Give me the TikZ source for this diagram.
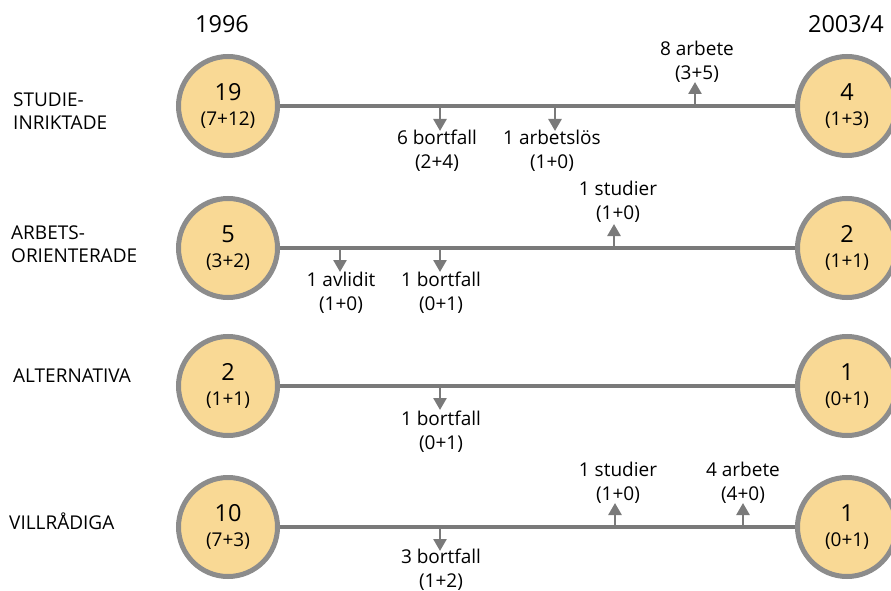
\documentclass[tikz,border=0pt]{standalone}
\usepackage{fontspec}
\setmainfont{Open Sans}
\usetikzlibrary{arrows.meta}
\definecolor{lgray}{HTML}{7A7A7A}
\definecolor{cgray}{HTML}{8C8C8C}
\definecolor{cfill}{HTML}{F9D995}
\tikzset{
  x=1pt, y=-1pt,
  ring/.style={circle, draw=cgray, line width=5pt, fill=cfill, minimum size=99pt, inner sep=0pt, align=center, font=\fontsize{19}{25}\selectfont},
  hline/.style={draw=lgray, line width=3.2pt},
  flow/.style={draw=lgray, line width=2.6pt, -{Triangle[length=12pt,width=13pt]}},
  lbl/.style={align=center, font=\fontsize{19}{24}\selectfont, inner sep=0pt},
  cat/.style={anchor=west, align=left, font=\fontsize{19}{23}\selectfont, inner sep=0pt},
  head/.style={font=\fontsize{23.5}{26}\selectfont, inner sep=0pt},
}
\newcommand{\bignum}[1]{{\fontsize{23.5}{25}\selectfont #1}}
\begin{document}
\begin{tikzpicture}
\useasboundingbox (0,0) rectangle (891,591);
\node[head] (y1) at (222,24) {1996};
\node[head] (y2) at (846,24) {2003/4};
% row 1
\node[cat] (c1) at (13,111) {STUDIE-\\INRIKTADE};
\node[ring] (l1) at (228,106) {\bignum{19}\\(7+12)};
\node[ring] (r1) at (847,106) {\bignum{4}\\(1+3)};
\draw[hline] (l1) -- (r1);
\coordinate (a1) at (440,106); \coordinate (b1) at (440,131);
\coordinate (a2) at (555,106); \coordinate (b2) at (555,131);
\coordinate (a3) at (695,106); \coordinate (b3) at (695,82);
\draw[flow] (a1) -- (b1);
\draw[flow] (a2) -- (b2);
\draw[flow] (a3) -- (b3);
\node[lbl] (t1) at (437,151) {6 bortfall\\(2+4)};
\node[lbl] (t2) at (552,151) {1 arbetslös\\(1+0)};
\node[lbl] (t3) at (697,62) {8 arbete\\(3+5)};
% row 2
\node[cat] (c2) at (11,244) {ARBETS-\\ORIENTERADE};
\node[ring] (l2) at (228,248) {\bignum{5}\\(3+2)};
\node[ring] (r2) at (847,248) {\bignum{2}\\(1+1)};
\draw[hline] (l2) -- (r2);
\coordinate (a4) at (340,248); \coordinate (b4) at (340,272);
\coordinate (a5) at (440,248); \coordinate (b5) at (440,272);
\coordinate (a6) at (614,248); \coordinate (b6) at (614,224);
\draw[flow] (a4) -- (b4);
\draw[flow] (a5) -- (b5);
\draw[flow] (a6) -- (b6);
\node[lbl] (t4) at (341,293) {1 avlidit\\(1+0)};
\node[lbl] (t5) at (441,293) {1 bortfall\\(0+1)};
\node[lbl] (t6) at (618,202) {1 studier\\(1+0)};
% row 3
\node[cat] (c3) at (13,376) {ALTERNATIVA};
\node[ring] (l3) at (228,386) {\bignum{2}\\(1+1)};
\node[ring] (r3) at (847,386) {\bignum{1}\\(0+1)};
\draw[hline] (l3) -- (r3);
\coordinate (a7) at (440,386); \coordinate (b7) at (440,410);
\draw[flow] (a7) -- (b7);
\node[lbl] (t7) at (441,432) {1 bortfall\\(0+1)};
% row 4
\node[cat] (c4) at (9,521) {VILLRÅDIGA};
\node[ring] (l4) at (228,527) {\bignum{10}\\(7+3)};
\node[ring] (r4) at (847,527) {\bignum{1}\\(0+1)};
\draw[hline] (l4) -- (r4);
\coordinate (a8) at (440,527); \coordinate (b8) at (440,551);
\coordinate (a9) at (615,527); \coordinate (b9) at (615,503);
\coordinate (a10) at (743,527); \coordinate (b10) at (743,503);
\draw[flow] (a8) -- (b8);
\draw[flow] (a9) -- (b9);
\draw[flow] (a10) -- (b10);
\node[lbl] (t8) at (441,570) {3 bortfall\\(1+2)};
\node[lbl] (t9) at (618,483) {1 studier\\(1+0)};
\node[lbl] (t10) at (743,483) {4 arbete\\(4+0)};
\end{tikzpicture}
\end{document}
